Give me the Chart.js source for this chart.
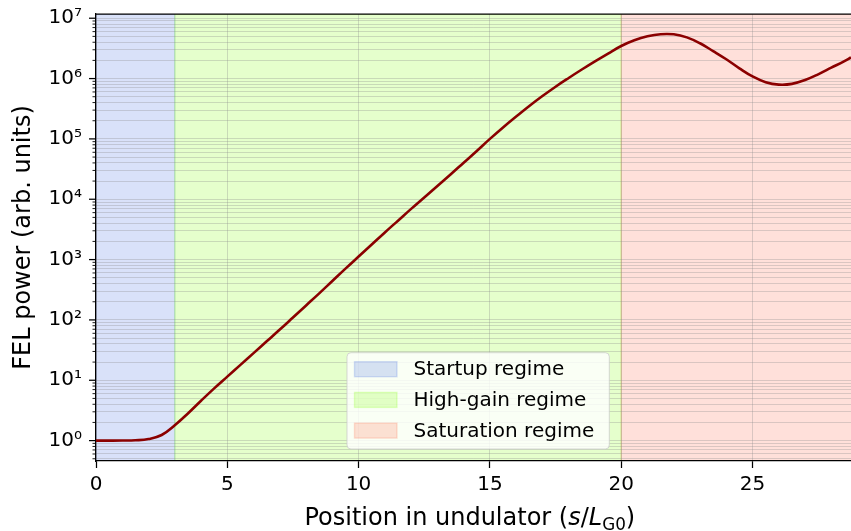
<!DOCTYPE html>
<html>
<head>
<meta charset="utf-8">
<script src="https://cdn.jsdelivr.net/npm/chart.js@4.4.1/dist/chart.umd.min.js"></script>
<style>
  html, body { margin: 0; padding: 0; background: #fff; overflow: hidden; }
  #wrap { position: relative; width: 851px; height: 531px; }
</style>
</head>
<body>
<div id="wrap"><canvas id="c" width="851" height="531"></canvas></div>
<script>
// Position along the undulator, in gain lengths (s / L_G0)
const position = [0, 0.5, 1, 1.5, 2, 2.5, 3, 3.5, 4, 4.5, 5, 5.5, 6, 6.5, 7, 7.5, 8, 8.5, 9, 9.5,
                  10, 10.5, 11, 11.5, 12, 12.5, 13, 13.5, 14, 14.5, 15, 15.5, 16, 16.5, 17, 17.5,
                  18, 18.5, 19, 19.5, 20, 20.5, 21, 21.5, 22, 22.5, 23, 23.5, 24, 24.5, 25, 25.5,
                  26, 26.5, 27, 27.5, 28, 28.5, 28.75];
// Radiated FEL power (arbitrary units)
const power = [1.0, 1.0, 1.002, 1.012, 1.059, 1.239, 1.799, 2.818, 4.571, 7.328, 11.48, 17.99,
               28.18, 44.16, 69.18, 109.6, 173.8, 275.4, 441.6, 707.9, 1122, 1778, 2818, 4416,
               6918, 10720, 16600, 25700, 40270, 63100, 100000, 154900, 234400, 350800, 512900,
               732800, 1023000, 1413000, 1928000, 2600000, 3467000, 4315000, 5012000, 5433000,
               5408000, 4819000, 3846000, 2851000, 2089000, 1479000, 1084000, 871000, 794300,
               816600, 944100, 1175000, 1514000, 1950000, 2239000];

// Shaded operating regimes
const regimeNames = ['Startup regime', 'High-gain regime', 'Saturation regime'];
const regimeStart = [0, 3, 20];
const regimeEnd = [3, 20, 30];
const regimeColors = ['rgba(65,105,225,0.2)', 'rgba(127,255,0,0.2)', 'rgba(255,99,71,0.2)'];

// Axis ticks
const xTicks = [0, 5, 10, 15, 20, 25];
const yDecades = [-1, 0, 1, 2, 3, 4, 5, 6, 7];
const superDigits = ['⁰', '¹', '²', '³', '⁴', '⁵', '⁶', '⁷', '⁸', '⁹'];

// Axis titles
const yTitle = 'FEL power (arb. units)';
const xTitleParts = [
  { text: 'Position in undulator (', style: 'normal', sub: false },
  { text: 's', style: 'italic', sub: false },
  { text: '/', style: 'normal', sub: false },
  { text: 'L', style: 'italic', sub: false },
  { text: 'G0', style: 'normal', sub: true },
  { text: ')', style: 'normal', sub: false }
];

const FONT = '"DejaVu Sans", "Liberation Sans", sans-serif';

function yTickValues(min, max) {
  const vals = [];
  yDecades.forEach(k => {
    for (let m = 1; m <= 9; m++) {
      const v = m * Math.pow(10, k);
      if (v >= min && v <= max) vals.push(v);
    }
  });
  return vals;
}
function isDecade(v) {
  const e = Math.log10(v);
  return Math.abs(e - Math.round(e)) < 1e-9;
}

// Background and regime bands, painted beneath the grid
const bandsPlugin = {
  id: 'bands',
  beforeDraw(chart) {
    const { ctx, chartArea: a, scales: { x } } = chart;
    ctx.save();
    ctx.fillStyle = '#fff';
    ctx.fillRect(0, 0, chart.width, chart.height);
    ctx.beginPath();
    ctx.rect(a.left, a.top, a.right - a.left, a.bottom - a.top);
    ctx.clip();
    regimeNames.forEach((name, i) => {
      const x0 = x.getPixelForValue(regimeStart[i]);
      const x1 = x.getPixelForValue(regimeEnd[i]);
      ctx.fillStyle = regimeColors[i];
      ctx.fillRect(x0, a.top, x1 - x0, a.bottom - a.top);
      ctx.strokeStyle = regimeColors[i];
      ctx.lineWidth = 1.4;
      ctx.strokeRect(x0, a.top, x1 - x0, a.bottom - a.top);
    });
    ctx.restore();
  }
};

// Top spine, y tick marks, x title with math styling, and the legend box
const decorPlugin = {
  id: 'decor',
  afterDraw(chart) {
    const { ctx, chartArea: a, scales: { x, y } } = chart;
    ctx.save();
    // top spine
    ctx.strokeStyle = '#000';
    ctx.lineWidth = 1.25;
    ctx.beginPath();
    ctx.moveTo(a.left, a.top);
    ctx.lineTo(a.right, a.top);
    ctx.stroke();
    // y tick marks (major and minor)
    y.ticks.forEach(t => {
      const py = y.getPixelForValue(t.value);
      const major = isDecade(t.value);
      ctx.lineWidth = major ? 1.25 : 0.9;
      ctx.beginPath();
      ctx.moveTo(a.left, py);
      ctx.lineTo(a.left - (major ? 7 : 3.5), py);
      ctx.stroke();
    });
    // x title
    const size = 24, subSize = 16.8;
    let total = 0;
    const widths = xTitleParts.map(p => {
      ctx.font = `${p.style} ${p.sub ? subSize : size}px ${FONT}`;
      const w = ctx.measureText(p.text).width;
      total += w;
      return w;
    });
    let cx = a.left + 373.8 - total / 2;
    const base = 525;
    ctx.fillStyle = '#000';
    ctx.textBaseline = 'alphabetic';
    ctx.textAlign = 'left';
    xTitleParts.forEach((p, i) => {
      ctx.font = `${p.style} ${p.sub ? subSize : size}px ${FONT}`;
      ctx.fillText(p.text, cx, base + (p.sub ? 5 : 0));
      cx += widths[i];
    });
    // legend
    const lx = a.left + 251, ly = a.top + 338.7, lw = 262.3, lh = 96.3;
    ctx.beginPath();
    ctx.roundRect(lx, ly, lw, lh, 4);
    ctx.fillStyle = 'rgba(255,255,255,0.8)';
    ctx.fill();
    ctx.strokeStyle = 'rgba(204,204,204,0.8)';
    ctx.lineWidth = 1;
    ctx.stroke();
    ctx.font = `20px ${FONT}`;
    ctx.textBaseline = 'middle';
    regimeNames.forEach((name, i) => {
      const rowY = ly + 16.5 + i * 30.7;
      ctx.fillStyle = regimeColors[i];
      ctx.fillRect(lx + 7.5, rowY - 7.5, 42.5, 15);
      ctx.strokeStyle = regimeColors[i];
      ctx.lineWidth = 1.4;
      ctx.strokeRect(lx + 7.5, rowY - 7.5, 42.5, 15);
      ctx.fillStyle = '#000';
      ctx.fillText(name, lx + 66.5, rowY + 1);
    });
    ctx.restore();
  }
};

const points = position.map((s, i) => ({ x: s, y: power[i] }));

new Chart(document.getElementById('c'), {
  type: 'line',
  data: {
    datasets: [{
      label: 'FEL power',
      data: points,
      borderColor: '#8b0000',
      borderWidth: 2.6,
      pointRadius: 0,
      tension: 0.4,
      fill: false
    }]
  },
  options: {
    responsive: false,
    animation: false,
    devicePixelRatio: 1,
    layout: { padding: { top: 14, right: 0, left: 0, bottom: 0 } },
    plugins: { legend: { display: false }, tooltip: { enabled: false } },
    scales: {
      x: {
        type: 'linear',
        min: 0,
        max: 28.75,
        afterBuildTicks(scale) { scale.ticks = xTicks.map(v => ({ value: v })); },
        afterFit(scale) {
          scale.height = 70;
          scale.paddingLeft = 0;
          scale.paddingRight = 0;
        },
        ticks: {
          autoSkip: false,
          maxRotation: 0,
          padding: 5,
          color: '#000',
          font: { family: FONT, size: 20 },
          callback: v => String(v)
        },
        grid: {
          color: 'rgba(140,140,140,0.32)',
          lineWidth: 1,
          tickColor: '#000',
          tickWidth: 1.25,
          tickLength: 7
        },
        border: { color: '#000', width: 1.25 }
      },
      y: {
        type: 'logarithmic',
        min: 0.459,
        max: 1.175e7,
        afterBuildTicks(scale) {
          scale.ticks = yTickValues(scale.min, scale.max).map(v => ({ value: v }));
        },
        afterFit(scale) {
          scale.width = 96;
          scale.paddingTop = 0;
          scale.paddingBottom = 0;
        },
        ticks: {
          autoSkip: false,
          padding: 14,
          color: '#000',
          font: { family: FONT, size: 20 },
          callback: v => {
            if (!isDecade(v)) return '';
            const e = Math.round(Math.log10(v));
            return '10' + String(e).split('').map(d => superDigits[+d]).join('');
          }
        },
        grid: {
          color: 'rgba(140,140,140,0.32)',
          lineWidth: 1,
          drawTicks: false
        },
        border: { color: '#000', width: 1.25 },
        title: {
          display: true,
          text: yTitle,
          color: '#000',
          font: { family: FONT, size: 24 },
          padding: { top: 9, bottom: 0 }
        }
      }
    }
  },
  plugins: [bandsPlugin, decorPlugin]
});
</script>
</body>
</html>
